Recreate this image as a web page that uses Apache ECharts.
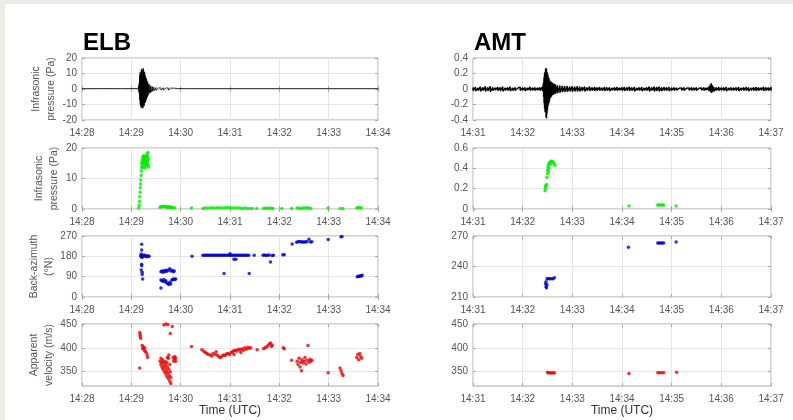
<!DOCTYPE html>
<html>
<head>
<meta charset="utf-8">
<script src="https://cdn.jsdelivr.net/npm/echarts@6/dist/echarts.min.js"></script>
<style>
html, body { margin: 0; padding: 0; background: #fff; }
#main { width: 793px; height: 420px; }
</style>
</head>
<body>
<div id="main"></div>
<script>
// time is given in minutes after 14:00 UTC
var stations = ['ELB', 'AMT'];
var minuteRange = [[28, 34], [31, 37]];
var rowNames = ['Infrasonic\npressure (Pa)', 'Infrasonic\npressure (Pa)', 'Back-azimuth\n(°N)', 'Apparent\nvelocity (m/s)'];
// [min, max, interval] per row, per station
var yLimits = [
    [[-20, 20, 10], [-0.4, 0.4, 0.2]],
    [[0, 20, 10], [0, 0.6, 0.2]],
    [[0, 270, 90], [210, 270, 30]],
    [[320, 450, 50], [320, 450, 50]]
];
var velocityTicks = [350, 400, 450];

// waveform envelope: [minute, upper, lower]
var elbWave = [
    [28.00, 0.25, -0.25], [28.40, 0.3, -0.25], [28.80, 0.25, -0.3], [29.14, 0.3, -0.3],
    [29.15, 2, -1.5], [29.16, 4, -3], [29.17, 9, -7], [29.18, 11, -10], [29.19, 10, -11],
    [29.20, 12, -12], [29.21, 13, -11], [29.22, 11, -12.5], [29.23, 12, -11], [29.24, 13.5, -12],
    [29.25, 12, -10], [29.26, 10, -11], [29.27, 11, -9], [29.28, 9, -9], [29.29, 8, -8],
    [29.30, 7, -7], [29.31, 6, -6], [29.32, 5, -5.5], [29.33, 4.5, -4.5], [29.34, 3.5, -4],
    [29.36, 3, -3], [29.38, 2.2, -2.5], [29.40, 1.8, -2], [29.43, 1.5, -1.5], [29.46, 1.1, -1.2],
    [29.50, 0.9, -0.9], [29.55, 0.6, -0.6], [29.60, 0.7, -0.7], [29.65, 0.8, -0.7], [29.70, 0.6, -0.6],
    [29.75, 0.7, -0.7], [29.80, 0.6, -0.6], [29.88, 0.5, -0.5], [29.95, 0.3, -0.3], [30.10, 0.25, -0.25],
    [31.00, 0.25, -0.25], [32.00, 0.25, -0.25], [33.00, 0.25, -0.25], [34.00, 0.25, -0.25]
];
var amtWave = [
    [31.00, .02, -.02], [31.05, .025, -.025], [31.10, .015, -.02], [31.15, .03, -.03], [31.20, .02, -.02],
    [31.25, .035, -.03], [31.30, .02, -.025], [31.35, .035, -.035], [31.40, .02, -.02], [31.45, .015, -.015],
    [31.50, .025, -.02], [31.55, .02, -.025], [31.60, .03, -.03], [31.65, .015, -.015], [31.70, .02, -.02],
    [31.75, .03, -.025], [31.80, .015, -.02], [31.85, .02, -.02], [31.90, .01, -.015], [31.95, .025, -.02],
    [32.00, .015, -.015], [32.05, .02, -.025], [32.10, .015, -.015], [32.15, .025, -.02], [32.20, .015, -.015],
    [32.25, .02, -.02], [32.30, .015, -.015], [32.35, .02, -.02], [32.40, .03, -.03],
    [32.42, .08, -.1], [32.43, .15, -.18], [32.44, .2, -.25], [32.45, .22, -.3], [32.46, .25, -.28],
    [32.47, .27, -.36], [32.48, .26, -.38], [32.49, .22, -.32], [32.50, .2, -.27], [32.51, .18, -.22],
    [32.52, .15, -.2], [32.53, .14, -.18], [32.54, .12, -.15], [32.56, .1, -.12], [32.58, .09, -.1],
    [32.60, .08, -.08], [32.63, .07, -.07], [32.66, .06, -.06], [32.70, .05, -.055], [32.75, .045, -.05],
    [32.80, .04, -.04], [32.85, .035, -.04], [32.90, .04, -.035], [32.95, .03, -.03], [33.00, .035, -.035],
    [33.05, .03, -.03], [33.10, .035, -.03], [33.15, .03, -.03], [33.20, .025, -.025], [33.25, .03, -.03],
    [33.30, .02, -.02], [33.35, .03, -.025], [33.40, .02, -.02], [33.45, .025, -.025], [33.50, .02, -.02],
    [33.55, .025, -.02], [33.60, .015, -.02], [33.65, .025, -.025], [33.70, .02, -.02], [33.75, .02, -.025],
    [33.80, .015, -.015], [33.85, .02, -.02], [33.90, .025, -.02], [33.95, .015, -.015], [34.00, .02, -.02],
    [34.05, .025, -.025], [34.10, .02, -.02], [34.15, .03, -.025], [34.20, .02, -.02], [34.25, .025, -.03],
    [34.30, .015, -.015], [34.35, .02, -.02], [34.40, .025, -.025], [34.45, .015, -.02], [34.50, .02, -.02],
    [34.55, .03, -.03], [34.60, .02, -.02], [34.65, .03, -.03], [34.70, .025, -.025], [34.75, .03, -.03],
    [34.80, .02, -.025], [34.85, .025, -.02], [34.90, .02, -.02], [34.95, .025, -.025], [35.00, .015, -.015],
    [35.05, .02, -.02], [35.10, .015, -.015], [35.15, .01, -.01], [35.20, .015, -.015], [35.25, .02, -.02],
    [35.30, .01, -.01], [35.35, .015, -.015], [35.40, .02, -.02], [35.45, .015, -.015], [35.50, .02, -.02],
    [35.55, .01, -.015], [35.60, .015, -.015], [35.65, .02, -.02], [35.70, .015, -.015], [35.75, .025, -.025],
    [35.78, .06, -.04], [35.80, .075, -.05], [35.82, .05, -.04], [35.85, .03, -.03], [35.90, .02, -.02],
    [35.95, .025, -.02], [36.00, .015, -.015], [36.05, .02, -.02], [36.10, .025, -.025], [36.15, .015, -.015],
    [36.20, .02, -.02], [36.25, .015, -.015], [36.30, .02, -.02], [36.35, .025, -.025], [36.40, .015, -.015],
    [36.45, .02, -.02], [36.50, .025, -.02], [36.55, .02, -.025], [36.60, .015, -.015], [36.65, .02, -.02],
    [36.70, .025, -.025], [36.75, .02, -.02], [36.80, .015, -.015], [36.85, .025, -.025], [36.90, .02, -.02],
    [36.95, .02, -.02], [37.00, .02, -.02]
];

// detections: [minute, value]
var elbPressure = [
    [29.15, 0.3], [29.16, 1.2], [29.165, 2.5], [29.17, 4], [29.175, 5.5], [29.18, 7], [29.185, 8.2],
    [29.19, 9.5], [29.2, 11], [29.2, 12.5], [29.21, 13.5], [29.21, 15], [29.22, 16], [29.22, 14.2],
    [29.23, 17], [29.23, 15.2], [29.24, 16.5], [29.24, 13.8], [29.25, 15.8], [29.25, 17.5], [29.26, 14.8],
    [29.26, 16.2], [29.27, 15], [29.27, 17.2], [29.28, 13.5], [29.28, 16.5], [29.29, 15.5], [29.29, 14.2],
    [29.3, 16.8], [29.3, 15.2], [29.31, 17.5], [29.31, 14.5], [29.32, 16], [29.32, 18], [29.33, 15.5],
    [29.33, 17.2], [29.34, 14.5], [29.34, 18.5], [29.35, 16.5], [29.35, 13.8],
    [29.58, 0.6], [29.6, 0.8], [29.62, 0.7], [29.64, 0.9], [29.66, 0.8], [29.68, 0.7], [29.7, 0.8],
    [29.72, 0.6], [29.74, 0.7], [29.76, 0.6], [29.78, 0.7], [29.8, 0.5], [29.82, 0.6], [29.85, 0.4], [29.88, 0.3],
    [30.22, 0.3],
    [30.45, 0.2], [30.5, 0.3], [30.55, 0.3], [30.6, 0.3], [30.65, 0.4], [30.7, 0.3], [30.75, 0.4], [30.8, 0.4],
    [30.85, 0.3], [30.9, 0.4], [30.95, 0.5], [31.0, 0.4], [31.05, 0.3], [31.1, 0.4], [31.15, 0.3], [31.2, 0.3],
    [31.25, 0.2], [31.3, 0.3], [31.35, 0.2], [31.4, 0.2], [31.45, 0.2], [31.54, 0.2],
    [31.68, 0.2], [31.72, 0.3], [31.76, 0.2], [31.8, 0.3], [31.84, 0.2], [31.87, 0.2],
    [32.05, 0.2], [32.25, 0.2],
    [32.36, 0.3], [32.4, 0.3], [32.44, 0.2], [32.48, 0.3], [32.52, 0.3], [32.56, 0.4], [32.6, 0.3], [32.64, 0.2],
    [32.99, 0.3], [33.23, 0.2], [33.29, 0.2],
    [33.57, 0.3], [33.6, 0.5], [33.63, 0.5], [33.66, 0.3]
];
var amtPressure = [
    [32.45, 0.18], [32.46, 0.2], [32.46, 0.22], [32.47, 0.23], [32.48, 0.24], [32.49, 0.31],
    [32.5, 0.35], [32.5, 0.38], [32.51, 0.41], [32.52, 0.43], [32.52, 0.37], [32.53, 0.45], [32.55, 0.46],
    [32.57, 0.47], [32.59, 0.47], [32.61, 0.46], [32.63, 0.45], [32.65, 0.43], [32.53, 0.4], [32.56, 0.44],
    [34.14, 0.03], [34.72, 0.04], [34.75, 0.04], [34.78, 0.04], [34.81, 0.04], [34.84, 0.04], [35.09, 0.03]
];
var elbAzimuth = [
    [29.19, 183], [29.2, 178], [29.2, 190], [29.21, 234], [29.21, 208], [29.22, 185], [29.22, 175],
    [29.21, 145], [29.21, 138], [29.2, 120], [29.22, 110], [29.22, 100], [29.23, 80], [29.24, 182],
    [29.26, 186], [29.28, 180], [29.3, 183], [29.32, 178], [29.34, 181], [29.36, 180],
    [29.6, 40], [29.6, 112], [29.62, 115], [29.64, 110], [29.66, 116], [29.68, 112], [29.7, 118],
    [29.72, 114], [29.75, 120], [29.78, 125], [29.8, 115], [29.83, 118], [29.85, 112], [29.87, 115],
    [29.6, 75], [29.62, 72], [29.64, 70], [29.66, 78], [29.68, 68], [29.7, 72], [29.72, 62], [29.74, 60],
    [29.76, 55], [29.78, 65], [29.8, 58], [29.82, 75], [29.84, 78], [29.86, 80], [29.88, 78], [29.9, 80],
    [30.23, 180],
    [30.45, 185], [30.48, 185], [30.51, 185], [30.54, 185], [30.57, 185], [30.6, 185], [30.63, 185],
    [30.66, 185], [30.69, 185], [30.72, 185], [30.75, 185], [30.78, 185], [30.81, 185], [30.84, 185],
    [30.87, 185], [30.9, 185], [30.93, 185], [30.96, 185], [30.99, 185], [31.02, 185], [31.05, 185],
    [31.08, 185], [31.11, 185], [31.14, 185], [31.17, 185], [31.2, 185], [31.23, 185], [31.26, 185],
    [31.29, 185], [31.32, 185], [31.35, 185], [31.38, 185],
    [30.88, 104], [31.08, 167], [31.12, 167], [31.0, 191], [31.39, 104], [31.49, 185],
    [31.67, 185], [31.7, 186], [31.73, 184], [31.76, 185], [31.79, 186], [31.82, 155], [31.85, 184], [31.88, 185],
    [32.07, 187], [32.1, 187], [32.26, 235],
    [32.35, 242], [32.38, 244], [32.41, 246], [32.44, 243], [32.47, 245], [32.5, 242], [32.53, 244],
    [32.56, 245], [32.6, 256], [32.63, 243], [32.66, 244],
    [32.99, 255], [33.25, 267], [33.27, 268],
    [33.58, 90], [33.6, 92], [33.62, 91], [33.64, 94], [33.66, 93], [33.68, 96]
];
var amtAzimuth = [
    [32.46, 223], [32.47, 220], [32.48, 219], [32.49, 222], [32.47, 225],
    [32.49, 228], [32.52, 228], [32.55, 228], [32.58, 228], [32.61, 228], [32.64, 229],
    [34.13, 259], [34.72, 263], [34.75, 263], [34.78, 263], [34.81, 263], [34.84, 263], [35.09, 264]
];
var elbVelocity = [
    [29.17, 432], [29.18, 428], [29.18, 424], [29.19, 420], [29.17, 358],
    [29.22, 405], [29.23, 398], [29.24, 402], [29.26, 396], [29.27, 400], [29.28, 393], [29.3, 390],
    [29.32, 385], [29.33, 380],
    [29.58, 372], [29.6, 378], [29.6, 365], [29.62, 370], [29.62, 360], [29.63, 375], [29.64, 355],
    [29.65, 368], [29.66, 362], [29.67, 350], [29.68, 372], [29.69, 358], [29.7, 345], [29.7, 365],
    [29.71, 352], [29.72, 340], [29.72, 370], [29.73, 360], [29.74, 348], [29.75, 335], [29.75, 378],
    [29.76, 355], [29.77, 342], [29.78, 330], [29.78, 365], [29.79, 350], [29.8, 338], [29.8, 325],
    [29.76, 385], [29.73, 380],
    [29.66, 448], [29.7, 450], [29.74, 449], [29.83, 445], [29.79, 430],
    [29.85, 380], [29.86, 372], [29.87, 376], [29.88, 382], [29.9, 378], [29.9, 372],
    [30.22, 403],
    [30.43, 396], [30.47, 393], [30.5, 390], [30.53, 388], [30.56, 386], [30.6, 385], [30.63, 383],
    [30.66, 388], [30.7, 386], [30.72, 392], [30.75, 384], [30.78, 381], [30.81, 380], [30.84, 383],
    [30.87, 385], [30.9, 384], [30.93, 387], [30.96, 388], [30.99, 386], [31.02, 390], [31.05, 392],
    [31.08, 394], [31.08, 386], [31.11, 395], [31.14, 393], [31.17, 397], [31.2, 396], [31.22, 390],
    [31.24, 398], [31.27, 395], [31.3, 400], [31.33, 397], [31.36, 401], [31.39, 399], [31.42, 400],
    [31.55, 396],
    [31.68, 398], [31.71, 400], [31.74, 402], [31.77, 405], [31.8, 408], [31.82, 410], [31.84, 403], [31.86, 406],
    [32.08, 400], [32.1, 398], [32.25, 374],
    [32.36, 372], [32.38, 365], [32.4, 378], [32.42, 360], [32.43, 370], [32.45, 352], [32.46, 375],
    [32.48, 368], [32.5, 372], [32.52, 380], [32.54, 366], [32.56, 374], [32.58, 405], [32.6, 370],
    [32.62, 376], [32.64, 372], [32.66, 374],
    [32.99, 348], [33.23, 358], [33.25, 352], [33.27, 346], [33.29, 342],
    [33.57, 380], [33.59, 386], [33.61, 375], [33.63, 388], [33.65, 382], [33.67, 378]
];
var amtVelocity = [
    [32.5, 349], [32.52, 347], [32.55, 348], [32.58, 347], [32.61, 348], [32.64, 347],
    [34.14, 346], [34.72, 348], [34.76, 348], [34.8, 348], [34.84, 348], [35.1, 349]
];

var rowData = [
    [elbWave, amtWave],
    [elbPressure, amtPressure],
    [elbAzimuth, amtAzimuth],
    [elbVelocity, amtVelocity]
];
var rowColors = ['#000000', '#00ee00', '#0000cc', '#ee0000'];

// zigzag between upper and lower envelope so the waveform looks filled
function zigzag(env) {
    var out = [];
    env.forEach(function (e) {
        out.push([e[0], e[1]]);
        out.push([e[0], e[2]]);
    });
    return out;
}

var chart = echarts.init(document.getElementById('main'));

var colLeft = [82, 473];
var colWidth = [296, 298];
var rowTop = [58, 148, 236, 324];
var rowHeight = [62, 61, 61, 62];
var waveWidth = [0.8, 1.4];

var labelColor = '#555';
var frameColor = '#a8a8a8';
var gridColor = '#e6e6e6';
var font = 'Liberation Sans, Arial, sans-serif';

var grids = [], xAxes = [], yAxes = [], series = [];

for (var r = 0; r < 4; r++) {
    for (var c = 0; c < 2; c++) {
        var gi = grids.length;
        var lim = yLimits[r][c];
        var custom = r === 3 ? velocityTicks : null;
        grids.push({
            left: colLeft[c], top: rowTop[r], width: colWidth[c], height: rowHeight[r],
            show: true, borderColor: frameColor, borderWidth: 1, backgroundColor: '#fff'
        });
        var xBase = {
            gridIndex: gi, type: 'value',
            min: minuteRange[c][0], max: minuteRange[c][1], interval: 1,
            axisLine: { show: false },
            axisTick: { inside: true, length: 3, lineStyle: { color: frameColor } }
        };
        xAxes.push(Object.assign({}, xBase, {
            position: 'bottom',
            axisLabel: {
                margin: 8, fontSize: 10, color: labelColor, fontFamily: font,
                formatter: function (v) { return '14:' + v; }
            },
            splitLine: { show: true, lineStyle: { color: gridColor } },
            name: r === 3 ? 'Time (UTC)' : '',
            nameLocation: 'middle', nameGap: 19,
            nameTextStyle: { fontSize: 12, color: '#333', fontFamily: font }
        }));
        xAxes.push(Object.assign({}, xBase, {
            position: 'top', axisLabel: { show: false }, splitLine: { show: false }
        }));
        var yBase = {
            gridIndex: gi, type: 'value',
            min: lim[0], max: lim[1], interval: lim[2],
            axisLine: { show: false },
            axisTick: { inside: true, length: 3, lineStyle: { color: frameColor } }
        };
        if (custom) yBase.axisTick.customValues = custom;
        var yLabel = { margin: 5, fontSize: 10, color: labelColor, fontFamily: font };
        if (custom) yLabel.customValues = custom;
        yAxes.push(Object.assign({}, yBase, {
            position: 'left',
            axisLabel: yLabel,
            splitLine: { show: true, lineStyle: { color: gridColor } },
            name: c === 0 ? rowNames[r] : '',
            nameLocation: 'middle', nameGap: 20,
            nameTextStyle: { fontSize: 10.5, lineHeight: 15, color: labelColor, fontFamily: font }
        }));
        yAxes.push(Object.assign({}, yBase, {
            position: 'right', axisLabel: { show: false }, splitLine: { show: false }
        }));

        if (r === 0) {
            series.push({
                type: 'line', xAxisIndex: 2 * gi, yAxisIndex: 2 * gi,
                data: zigzag(rowData[r][c]), showSymbol: false, animation: false,
                lineStyle: { color: rowColors[r], width: waveWidth[c] }
            });
        } else {
            series.push({
                type: 'scatter', xAxisIndex: 2 * gi, yAxisIndex: 2 * gi,
                data: rowData[r][c], symbol: 'circle', symbolSize: 3.5, animation: false,
                itemStyle: { color: rowColors[r] }
            });
        }
    }
}

var option = {
    backgroundColor: '#fff',
    animation: false,
    title: stations.map(function (s, i) {
        return {
            text: s, left: colLeft[i] + 1, top: 31, padding: 0,
            textStyle: { fontSize: 24, fontWeight: 'bold', color: '#000', fontFamily: font }
        };
    }),
    graphic: [
        { type: 'rect', silent: true, shape: { x: 0, y: 0, width: 793, height: 4 }, style: { fill: '#ececE6' } },
        { type: 'rect', silent: true, shape: { x: 0, y: 0, width: 5, height: 420 }, style: { fill: '#ececE6' } }
    ],
    grid: grids,
    xAxis: xAxes,
    yAxis: yAxes,
    series: series
};

chart.setOption(option);
</script>
</body>
</html>
